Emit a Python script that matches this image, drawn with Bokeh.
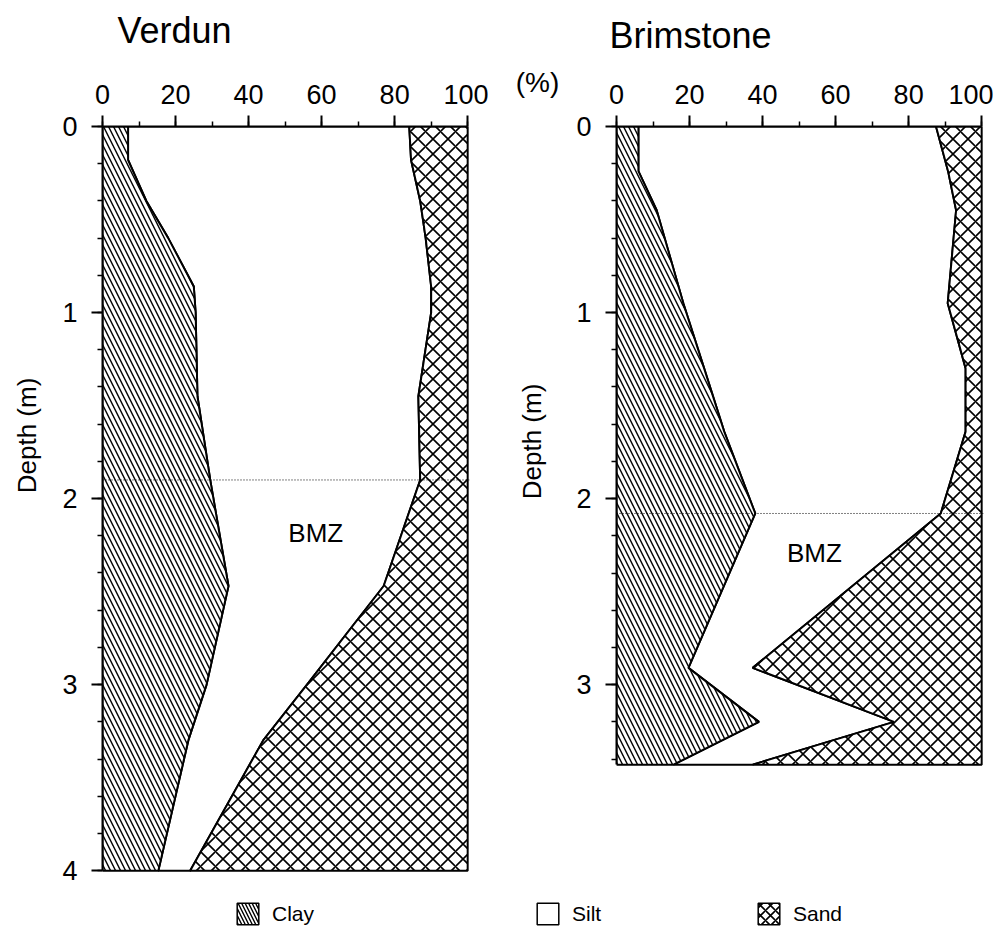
import math
from bokeh.plotting import figure
from bokeh.models import Range1d, SingleIntervalTicker, Label, Span, Legend, LegendItem, Plot
from bokeh.layouts import column, row
from bokeh.embed import file_html
from bokeh.resources import INLINE

FONT = "Liberation Sans"

# ---------------- data (percent by depth) ----------------
verdun_depth = [0.0, 0.18, 0.40, 0.60, 0.86, 1.00, 1.45, 1.90, 2.47, 3.00, 3.30, 4.00]
verdun_clay  = [7.0, 7.0, 12.0, 18.0, 25.0, 25.5, 26.0, 29.5, 34.5, 28.5, 23.5, 15.3]
verdun_silt  = [77.0, 77.5, 75.0, 70.5, 65.0, 64.5, 60.5, 57.5, 42.5, 27.5, 20.5, 8.7]
verdun_sand  = [16.0, 15.5, 13.0, 11.5, 10.0, 10.0, 13.5, 13.0, 23.0, 44.0, 56.0, 76.0]
verdun_bmz_top = 1.9

brim_depth = [0.0, 0.24, 0.45, 0.95, 1.30, 1.64, 2.08, 2.91, 3.20, 3.43]
brim_clay  = [6.0, 6.0, 11.0, 18.3, 24.0, 29.5, 38.0, 19.7, 39.0, 15.6]
brim_silt  = [81.5, 84.8, 82.0, 72.4, 71.6, 66.1, 50.8, 17.6, 37.0, 21.7]
brim_sand  = [12.5, 9.2, 7.0, 9.3, 4.4, 4.4, 11.2, 62.7, 24.0, 62.7]
brim_bmz_top = 2.08

legend_names = ["Clay", "Silt", "Sand"]
x_tick_interval = 20
depth_tick_interval = 1

CLAY_STYLE = dict(fill_color="white", hatch_pattern="\\", hatch_scale=10, hatch_weight=1.4,
                  hatch_color="black")
SAND_STYLE = dict(fill_color="white", hatch_pattern="x", hatch_scale=15, hatch_weight=1.6,
                  hatch_color="black")
SILT_STYLE = dict(fill_color="white")
LEG_CLAY = dict(CLAY_STYLE, hatch_scale=7)
LEG_SAND = dict(SAND_STYLE, hatch_scale=10)

EXTRA = {"frame_align": False} if "frame_align" in Plot.properties() else {}

TOP_H = 56          # strip holding the panel titles
BORDER_TOP = 70     # room for the top axes
ROW_H = BORDER_TOP + 746 + 16


def blank(width, height):
    f = figure(width=width, height=height, x_range=Range1d(0, 1), y_range=Range1d(0, 1),
               x_axis_location=None, y_axis_location=None, toolbar_location=None,
               output_backend="svg", min_border=0, **EXTRA)
    f.outline_line_color = None
    f.xgrid.visible = False
    f.ygrid.visible = False
    return f


def text_label(fig, x, y, text, size, angle=0.0, align="center", baseline="middle"):
    fig.add_layout(Label(x=x, y=y, x_units="screen", y_units="screen", text=text,
                         angle=angle, text_align=align, text_baseline=baseline,
                         text_font=FONT, text_font_size=size, text_color="black"))


def make_panel(depth, clay, silt, sand, bmz_top, bmz_x, bmz_y,
               frame_h, y_end, border_left, border_right):
    p = figure(frame_width=367, frame_height=frame_h,
               x_range=Range1d(0, 100.5), y_range=Range1d(y_end, 0),
               x_axis_location="above", toolbar_location=None, output_backend="svg",
               min_border_left=border_left, min_border_right=border_right,
               min_border_top=BORDER_TOP, min_border_bottom=ROW_H - BORDER_TOP - frame_h,
               **EXTRA)
    p.outline_line_color = None
    p.grid.visible = False

    cum = [c + s for c, s in zip(clay, silt)]
    d0, d1 = depth[0], depth[-1]
    p.patch(x=clay + cum[::-1], y=depth + depth[::-1], line_color="black", line_width=2,
            **SILT_STYLE)
    p.patch(x=[0] + clay + [0], y=[d0] + depth + [d1], line_color="black", line_width=2,
            **CLAY_STYLE)
    p.patch(x=cum + [100, 100], y=depth + [d1, d0], line_color="black", line_width=2,
            **SAND_STYLE)

    p.add_layout(Span(location=bmz_top, dimension="width", line_color="black",
                      line_width=1, line_dash="1 2"))
    p.add_layout(Label(x=bmz_x, y=bmz_y, text="BMZ", text_align="center",
                       text_baseline="middle", text_font=FONT, text_font_size="26px",
                       text_color="black"))

    xa = p.xaxis[0]
    xa.ticker = SingleIntervalTicker(interval=x_tick_interval, num_minor_ticks=2)
    xa.bounds = (0, 100)
    ya = p.yaxis[0]
    ya.ticker = SingleIntervalTicker(interval=depth_tick_interval, num_minor_ticks=5)
    ya.bounds = (0, d1)
    for ax in (xa, ya):
        ax.axis_line_width = 2
        ax.major_tick_line_width = 2
        ax.minor_tick_line_width = 1.5
        ax.major_tick_in = 0
        ax.major_tick_out = 11
        ax.minor_tick_in = 0
        ax.minor_tick_out = 5
        ax.major_label_text_font = FONT
        ax.major_label_text_font_size = "27px"
        ax.major_label_text_color = "black"
        ax.axis_line_color = "black"
        ax.major_tick_line_color = "black"
        ax.minor_tick_line_color = "black"
    xa.major_label_standoff = 12
    ya.major_label_standoff = 14
    return p


# title strip
pT = blank(993, TOP_H)
text_label(pT, 117, TOP_H - 29.5, "Verdun", "36px", align="left")
text_label(pT, 609, TOP_H - 34.5, "Brimstone", "36px", align="left")

# left strip: Verdun depth label
pL = blank(50, ROW_H)
text_label(pL, 26, 453, "Depth (m)", "26px", angle=math.pi / 2)

p1 = make_panel(verdun_depth, verdun_clay, verdun_silt, verdun_sand,
                verdun_bmz_top, 58.4, 2.185, 746, 4.01, 52, 19)

# middle strip: "(%)" and Brimstone depth label
pM = blank(82, ROW_H)
text_label(pM, 43, 447, "Depth (m)", "26px", angle=math.pi / 2)
text_label(pM, 49, 806, "(%)", "28px")

p2 = make_panel(brim_depth, brim_clay, brim_silt, brim_sand,
                brim_bmz_top, 54.2, 2.293, 640, 3.44, 46, 10)

# legend strip
p3 = blank(993, 50)
legend_styles = [LEG_CLAY, SILT_STYLE, LEG_SAND]
legend_x = [234, 534, 755]
for name, style, lx in zip(legend_names, legend_styles, legend_x):
    r = p3.patch(x=[float("nan")], y=[float("nan")], line_color="black", line_width=1.5,
                 **style)
    leg = Legend(items=[LegendItem(label=name, renderers=[r])], location=(lx, 11),
                 glyph_width=27, glyph_height=27, label_standoff=11,
                 label_text_font=FONT, label_text_font_size="21px",
                 label_text_color="black", padding=0, margin=0,
                 border_line_color=None, background_fill_alpha=0)
    p3.add_layout(leg)

layout = column(pT, row(pL, p1, pM, p2), p3)
open("out.html", "w").write(file_html(layout, INLINE))
